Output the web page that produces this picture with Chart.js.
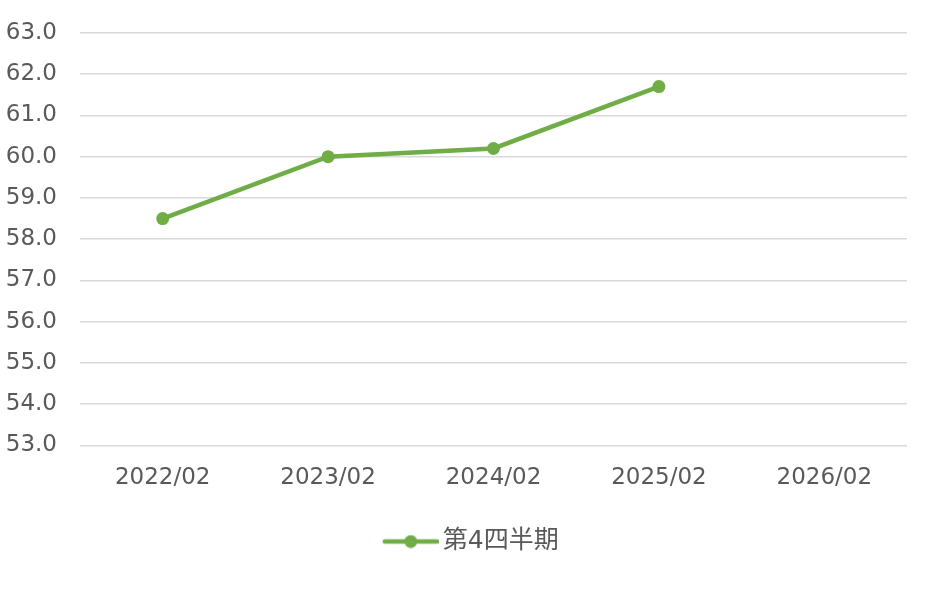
<!DOCTYPE html>
<html>
<head>
<meta charset="utf-8">
<script src="https://cdn.jsdelivr.net/npm/chart.js@4/dist/chart.umd.min.js"></script>
<style>
  html, body { margin: 0; padding: 0; background: #fff; }
  #wrap { width: 940px; height: 600px; }
</style>
</head>
<body>
<div id="wrap"><canvas id="myChart" width="940" height="600"></canvas></div>
<script>
// データ
const labels = ['2022/02', '2023/02', '2024/02', '2025/02', '2026/02'];
const seriesName = '第4四半期';
const values = [58.5, 60.0, 60.2, 61.7, null];
const yMin = 53;
const yMax = 63;

const green = '#70ad47';
const textColor = '#595959';
const fontFamily = '"DejaVu Sans", "Noto Sans CJK JP", sans-serif';

// 凡例用のマーカー（線＋丸）: 右寄せで描いて文字との間を詰める
const legendMark = document.createElement('canvas');
legendMark.width = 93;
legendMark.height = 14;
{
    const c = legendMark.getContext('2d');
    c.strokeStyle = green;
    c.lineWidth = 4.5;
    c.lineCap = 'round';
    c.beginPath();
    c.moveTo(39, 7);
    c.lineTo(91, 7);
    c.stroke();
    c.fillStyle = green;
    c.beginPath();
    c.arc(65, 7, 6.5, 0, Math.PI * 2);
    c.fill();
}

const ctx = document.getElementById('myChart').getContext('2d');
const myChart = new Chart(ctx, {
    type: 'line',
    data: {
        labels: labels,
        datasets: [{
            label: seriesName,
            data: values,
            borderColor: green,
            backgroundColor: green,
            borderWidth: 4.5,
            pointRadius: 6.5,
            pointHoverRadius: 6.5,
            pointBackgroundColor: green,
            pointBorderWidth: 0,
            pointStyle: 'circle',
            tension: 0
        }]
    },
    options: {
        responsive: false,
        animation: false,
        layout: {
            padding: { left: 6, right: 33, top: 33, bottom: 36 }
        },
        plugins: {
            tooltip: { enabled: false },
            legend: {
                position: 'bottom',
                labels: {
                    usePointStyle: true,
                    pointStyle: legendMark,
                    pointStyleWidth: 76,
                    boxHeight: 14,
                    padding: 18,
                    color: textColor,
                    font: { family: fontFamily, size: 25 },
                    generateLabels: (chart) => chart.data.datasets.map((ds, i) => ({
                        text: ds.label,
                        fillStyle: green,
                        strokeStyle: green,
                        lineWidth: 0,
                        pointStyle: legendMark,
                        datasetIndex: i,
                        fontColor: textColor
                    }))
                }
            }
        },
        scales: {
            x: {
                offset: true,
                grid: { display: false, drawTicks: false },
                border: { display: false },
                ticks: {
                    padding: 19,
                    color: textColor,
                    font: { family: fontFamily, size: 23 },
                    maxRotation: 0
                }
            },
            y: {
                min: yMin,
                max: yMax,
                grid: { color: '#d9d9d9', lineWidth: 1.5, drawTicks: false },
                border: { display: false },
                afterFit: (scale) => { scale.width = 74; scale.paddingTop = 0; },
                ticks: {
                    stepSize: 1,
                    padding: 23,
                    color: textColor,
                    font: { family: fontFamily, size: 23 },
                    callback: (v) => Number(v).toFixed(1)
                }
            }
        }
    }
});
</script>
</body>
</html>
